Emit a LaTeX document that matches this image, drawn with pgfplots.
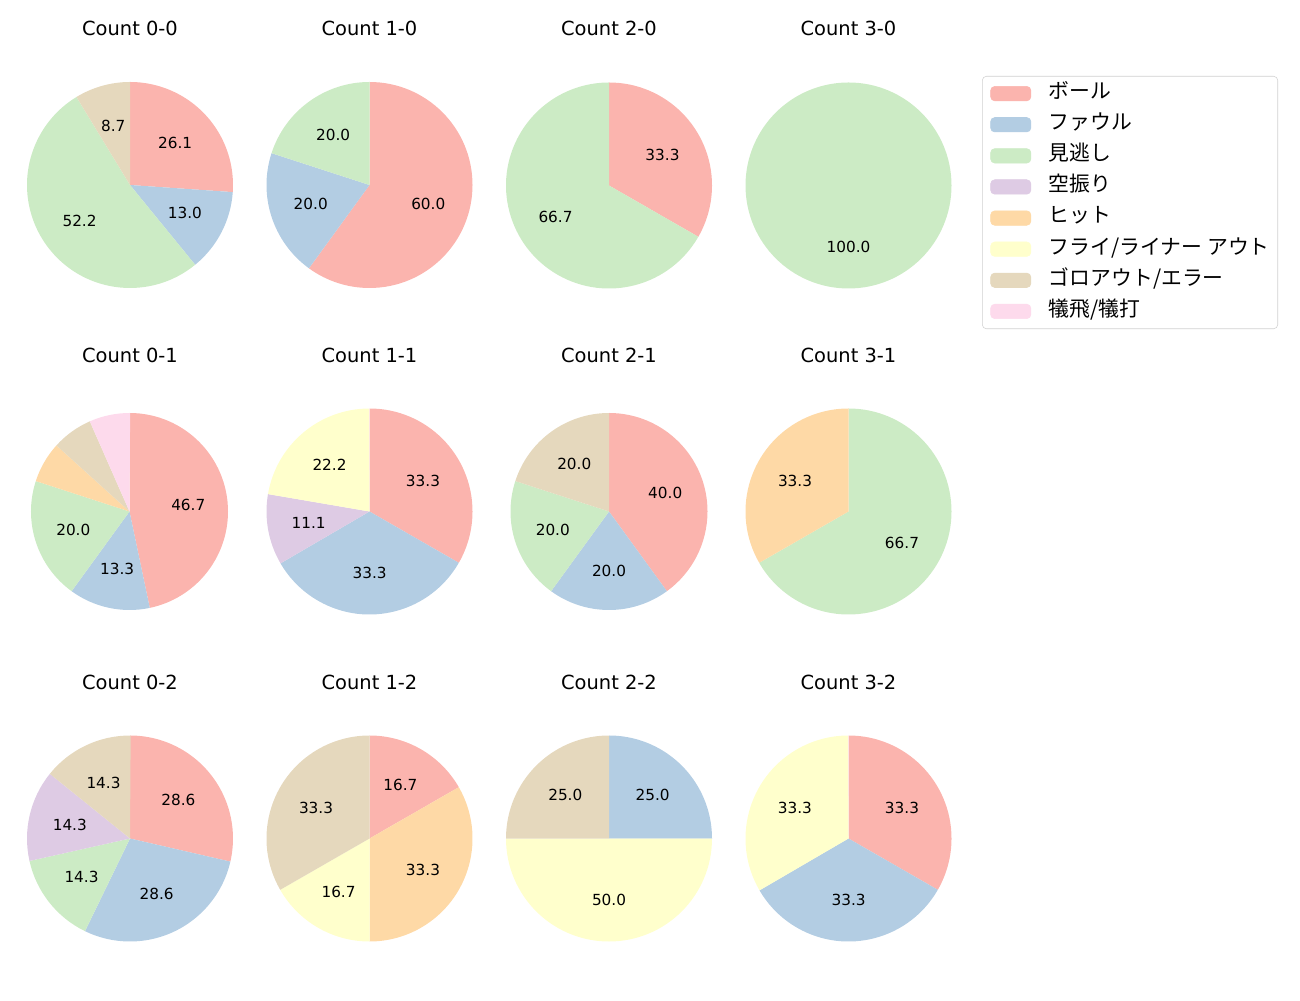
\documentclass[border=0pt]{standalone}
\usepackage{fontspec}
\setmainfont{DejaVu Sans}
\newfontfamily\jp{Noto Sans CJK JP}
\usepackage{pgfplots}
\pgfplotsset{compat=1.18}
\definecolor{c1}{HTML}{FBB4AE}
\definecolor{c2}{HTML}{B3CDE3}
\definecolor{c3}{HTML}{CCEBC5}
\definecolor{c4}{HTML}{DECBE4}
\definecolor{c5}{HTML}{FED9A6}
\definecolor{c6}{HTML}{FFFFCC}
\definecolor{c7}{HTML}{E5D8BD}
\definecolor{c8}{HTML}{FDDAEC}
% #1 cx px, #2 cy px (from top), #3 radius px, #4 list value/colour
\newcommand{\piechart}[4]{%
\pgfmathsetlengthmacro\pw{2*#3*0.72pt}%
\pgfmathsetlengthmacro\px{#1*0.72pt}%
\pgfmathsetlengthmacro\py{(1000-#2)*0.72pt}%
\begin{axis}[at={(\px,\py)}, anchor=center, scale only axis,
  width=\pw, height=\pw, hide axis, xmin=-1, xmax=1, ymin=-1, ymax=1, clip=false]
\pgfplotsextra{%
 \pgfmathsetmacro\R{#3*0.72}%
 \gdef\cum{0}%
 \foreach \v/\c in {#4}{%
   \pgfmathsetmacro\aa{90-3.6*\cum}%
   \pgfmathsetmacro\bb{90-3.6*(\cum+\v)}%
   \fill[\c] (axis cs:0,0) -- (axis cs:{cos(\aa)},{sin(\aa)}) arc[start angle=\aa, end angle=\bb, radius=\R pt] -- cycle;
   \pgfmathparse{\v>=7}%
   \ifdim\pgfmathresult pt>0pt
     \pgfmathsetmacro\mm{(\aa+\bb)/2}%
     \node[font=\fontsize{11}{13}\selectfont] at (axis cs:{0.6*cos(\mm)},{0.6*sin(\mm)}) {\pgfmathprintnumber[fixed,fixed zerofill,precision=1,assume math mode=true]{\v}};
   \fi
   \pgfmathsetmacro\nc{\cum+\v}\xdef\cum{\nc}%
 }}
\end{axis}}
\begin{document}
\begin{tikzpicture}
\useasboundingbox (0pt,0pt) rectangle (936pt,720pt);
% row 1
\piechart{130}{185}{103}{26.1/c1,13.0/c2,52.2/c3,8.7/c7}
\piechart{369.5}{185}{103}{60.0/c1,20.0/c2,20.0/c3}
\piechart{609}{185.5}{103}{33.3/c1,66.7/c3}
\piechart{848.5}{185.5}{103}{100.0/c3}
% row 2
\piechart{129.5}{511.5}{98.5}{46.7/c1,13.3/c2,20.0/c3,6.7/c5,6.7/c7,6.7/c8}
\piechart{369.5}{511.5}{103}{33.3/c1,33.3/c2,11.1/c4,22.2/c6}
\piechart{609}{511.5}{98.5}{40.0/c1,20.0/c2,20.0/c3,20.0/c7}
\piechart{848.5}{511.5}{103}{66.7/c3,33.3/c5}
% row 3
\piechart{130}{838.5}{103}{28.6/c1,28.6/c2,14.3/c3,14.3/c4,14.3/c7}
\piechart{369.5}{838.5}{103}{16.7/c1,33.3/c5,16.7/c6,33.3/c7}
\piechart{609}{838.5}{103}{25.0/c2,50.0/c6,25.0/c7}
\piechart{848.5}{838.5}{103}{33.3/c1,33.3/c2,33.3/c6}
% titles
\foreach \cx/\b in {130/0,369.5/1,609/2,848.5/3}{
  \node[font=\fontsize{14}{16}\selectfont] at ({\cx*0.72pt},{972*0.72pt}) {Count \b-0};
  \node[font=\fontsize{14}{16}\selectfont] at ({\cx*0.72pt},{645*0.72pt}) {Count \b-1};
  \node[font=\fontsize{14}{16}\selectfont] at ({\cx*0.72pt},{318*0.72pt}) {Count \b-2};
}
% legend
\begin{axis}[at={(707.04pt,665.28pt)}, anchor=north west, scale only axis, width=10pt, height=10pt,
  hide axis, xmin=0, xmax=1, ymin=0, ymax=1,
  legend cell align=left,
  legend image code/.code={\fill[#1] (0pt,-5.2pt) rectangle (29pt,5.2pt); \path (41.8pt,0pt);},
  legend style={at={(0,1)}, anchor=north west, draw=black!18, rounded corners=3pt, fill=white,
    font=\jp\fontsize{15}{17}\selectfont, inner xsep=5.8pt, inner ysep=5pt, row sep=7.4pt,
    nodes={inner sep=0pt, text height=11pt, text depth=4pt}}]
\addlegendimage{c1}\addlegendentry{ボール}
\addlegendimage{c2}\addlegendentry{ファウル}
\addlegendimage{c3}\addlegendentry{見逃し}
\addlegendimage{c4}\addlegendentry{空振り}
\addlegendimage{c5}\addlegendentry{ヒット}
\addlegendimage{c6}\addlegendentry{フライ/ライナー アウト}
\addlegendimage{c7}\addlegendentry{ゴロアウト/エラー}
\addlegendimage{c8}\addlegendentry{犠飛/犠打}
\end{axis}
\end{tikzpicture}
\end{document}
